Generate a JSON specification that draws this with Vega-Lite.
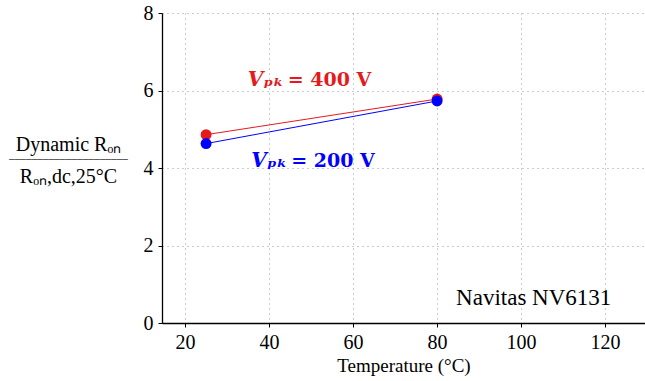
{
  "$schema": "https://vega.github.io/schema/vega-lite/v6.json",
  "autosize": "none",
  "width": 483,
  "height": 310,
  "padding": {"left": 162, "top": 13, "right": 0, "bottom": 58},
  "config": {
    "font": "Liberation Serif",
    "view": {"stroke": null},
    "axis": {"labelFont": "Liberation Serif", "titleFont": "Liberation Serif", "labelFontSize": 20, "titleFontSize": 19, "labelColor": "black", "titleColor": "black", "titleFontWeight": "normal", "domainColor": "black", "tickColor": "black", "gridColor": "#999", "gridDash": [1, 4], "gridWidth": 1}
  },
  "datasets": {
    "pts": [
      {"V": "400", "T": 25, "R": 4.86},
      {"V": "400", "T": 80, "R": 5.78},
      {"V": "200", "T": 25, "R": 4.63},
      {"V": "200", "T": 80, "R": 5.73}
    ],
    "labels": [
      {"V": "400", "T": 43.5, "R": 6.27, "a": "Vₚₖ", "b": "= 400 V"},
      {"V": "200", "T": 44.3, "R": 4.18, "a": "Vₚₖ", "b": "= 200 V"}
    ],
    "note": [
      {"T": 103.0, "R": 0.65, "t": "Navitas NV6131"}
    ]
  },
  "layer": [
    {
      "layer": [
        {
          "data": {"name": "pts"},
          "mark": {"type": "line", "strokeWidth": 1},
          "encoding": {
            "x": {"field": "T", "type": "quantitative", "scale": {"domain": [14.5, 129.5], "nice": false}, "axis": {"values": [20, 40, 60, 80, 100, 120], "labelFont": "Liberation Serif", "title": "Temperature (°C)", "titlePadding": 4, "tickSize": 4, "labelPadding": 5, "domainWidth": 1.3}},
            "y": {"field": "R", "type": "quantitative", "scale": {"domain": [0, 8], "nice": false}, "axis": {"values": [0, 2, 4, 6, 8], "labelFont": "Liberation Serif", "title": ["Dynamic Rₒₙ", "Rₒₙ,dc,25°C"], "titleFontSize": 20, "titleAngle": 0, "titleAlign": "center", "titleBaseline": "middle", "titleX": -94, "titleY": 131, "titleLineHeight": 32, "tickSize": 4, "labelPadding": 5, "domainWidth": 1.3}},
            "color": {"field": "V", "type": "nominal", "scale": {"domain": ["400", "200"], "range": ["#e41a1c", "#0000ff"]}, "legend": null},
            "order": {"field": "V", "sort": "descending"}
          }
        },
        {
          "data": {"name": "pts"},
          "mark": {"type": "circle", "size": 120, "opacity": 1},
          "encoding": {
            "x": {"field": "T", "type": "quantitative"},
            "y": {"field": "R", "type": "quantitative"},
            "color": {"field": "V", "type": "nominal", "legend": null},
            "order": {"field": "V", "sort": "descending"}
          }
        },
        {
          "data": {"name": "labels"},
          "mark": {"type": "text", "fontSize": 20, "fontWeight": "bold", "fontStyle": "italic", "font": "DejaVu Serif", "align": "right", "baseline": "middle"},
          "encoding": {
            "x": {"field": "T", "type": "quantitative"},
            "y": {"field": "R", "type": "quantitative"},
            "text": {"field": "a"},
            "color": {"field": "V", "type": "nominal", "legend": null}
          }
        },
        {
          "data": {"name": "labels"},
          "mark": {"type": "text", "fontSize": 19, "fontWeight": "bold", "font": "DejaVu Serif", "align": "left", "baseline": "middle", "dx": 4},
          "encoding": {
            "x": {"field": "T", "type": "quantitative"},
            "y": {"field": "R", "type": "quantitative"},
            "text": {"field": "b"},
            "color": {"field": "V", "type": "nominal", "legend": null}
          }
        }
      ]
    },
    {
      "data": {"name": "note"},
      "mark": {"type": "text", "fontSize": 23, "font": "Liberation Serif", "align": "center", "baseline": "middle", "color": "black"},
      "encoding": {
        "x": {"field": "T", "type": "quantitative"},
        "y": {"field": "R", "type": "quantitative", "scale": {"domain": [0, 8], "nice": false}, "axis": {"orient": "right", "domain": false, "ticks": false, "labels": false, "grid": false, "title": "─────────────────────", "titleFontSize": 8, "titleAngle": 0, "titleAlign": "center", "titleBaseline": "middle", "titleX": -577, "titleY": 146}},
        "text": {"field": "t"}
      }
    }
  ],
  "resolve": {"scale": {"y": "independent"}, "axis": {"y": "independent"}}
}
